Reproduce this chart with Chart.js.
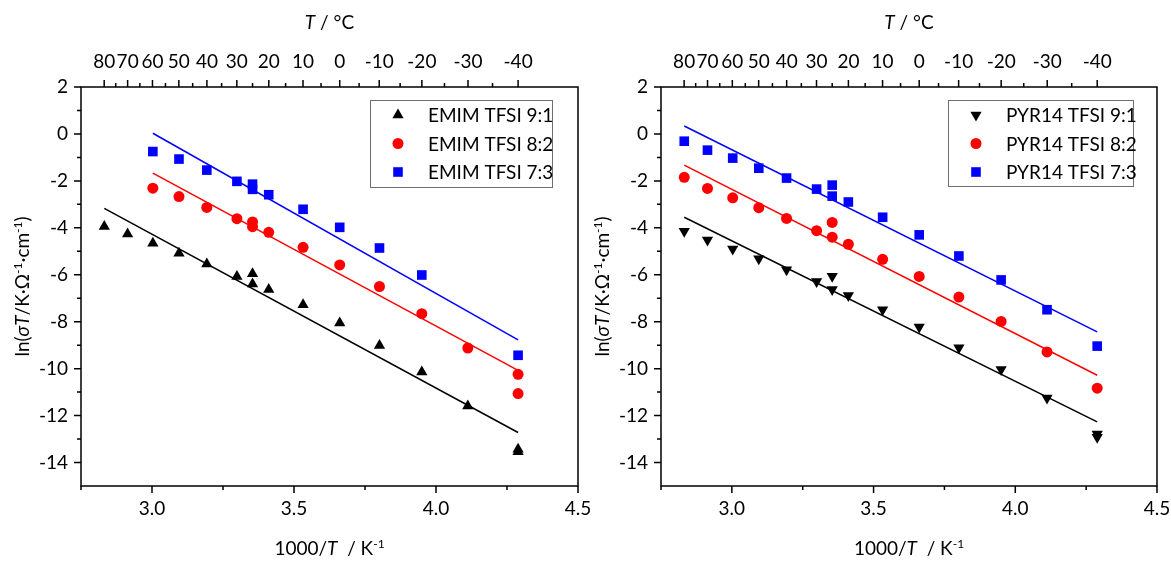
<!DOCTYPE html>
<html>
<head>
<meta charset="utf-8">
<script src="https://cdn.jsdelivr.net/npm/chart.js@4.4.1/dist/chart.umd.min.js"></script>
<style>
  body { margin: 0; background: #fff; }
  .wrap { position: relative; width: 1171px; height: 565px; overflow: hidden; }
  canvas { display: block; position: absolute; top: 0; }
  #left { left: 0; }
  #right { left: 585px; }
</style>
</head>
<body>
<div class="wrap">
  <canvas id="left" width="600" height="565"></canvas>
  <canvas id="right" width="586" height="565"></canvas>
</div>
<script>
// ---------- Dados ----------
// eixo inferior 1000/T (K^-1), eixo superior T (°C)
const xMajor = [3.0, 3.5, 4.0, 4.5];
const xMinor = [2.75, 3.25, 3.75, 4.25];
const yMajor = [-14, -12, -10, -8, -6, -4, -2, 0, 2];
const yMinor = [-13, -11, -9, -7, -5, -3, -1, 1];
const celsiusTicks = [80, 70, 60, 50, 40, 30, 20, 10, 0, -10, -20, -30, -40];
const celsiusMinor = [75, 65, 55, 45, 35, 25, 15, 5, -5, -15, -25, -35];

// EMIM TFSI
const emim91X = [2.832, 2.914, 3.003, 3.095, 3.193, 3.299, 3.354, 3.354, 3.411, 3.532, 3.661, 3.801, 3.950, 4.112, 4.289, 4.289];
const emim91Y = [-3.94, -4.26, -4.66, -5.08, -5.54, -6.07, -5.96, -6.39, -6.63, -7.28, -8.06, -9.01, -10.14, -11.59, -13.43, -13.54];
const emim82X = [3.003, 3.095, 3.193, 3.299, 3.354, 3.354, 3.411, 3.532, 3.661, 3.801, 3.950, 4.112, 4.289, 4.289];
const emim82Y = [-2.31, -2.67, -3.13, -3.61, -3.75, -3.95, -4.19, -4.83, -5.58, -6.50, -7.66, -9.12, -10.24, -11.06];
const emim73X = [3.003, 3.095, 3.193, 3.299, 3.354, 3.354, 3.411, 3.532, 3.661, 3.801, 3.950, 4.289];
const emim73Y = [-0.75, -1.07, -1.54, -2.02, -2.14, -2.36, -2.59, -3.21, -3.98, -4.86, -6.01, -9.43];
// retas de ajuste (extremos)
const emim91FitX = [2.832, 4.289], emim91FitY = [-3.17, -12.72];
const emim82FitX = [3.003, 4.289], emim82FitY = [-1.67, -10.07];
const emim73FitX = [3.003, 4.289], emim73FitY = [0.03, -8.77];

// PYR14 TFSI
const pyr91X = [2.832, 2.914, 3.003, 3.095, 3.193, 3.299, 3.354, 3.354, 3.411, 3.532, 3.661, 3.801, 3.950, 4.112, 4.289, 4.289];
const pyr91Y = [-4.15, -4.52, -4.90, -5.32, -5.79, -6.29, -6.06, -6.63, -6.88, -7.49, -8.23, -9.11, -10.04, -11.25, -12.78, -12.92];
const pyr82X = [2.832, 2.914, 3.003, 3.095, 3.193, 3.299, 3.354, 3.354, 3.411, 3.532, 3.661, 3.801, 3.950, 4.112, 4.289];
const pyr82Y = [-1.85, -2.32, -2.72, -3.14, -3.60, -4.12, -3.77, -4.40, -4.70, -5.34, -6.07, -6.95, -7.99, -9.29, -10.83];
const pyr73X = [2.832, 2.914, 3.003, 3.095, 3.193, 3.299, 3.354, 3.354, 3.411, 3.532, 3.661, 3.801, 3.950, 4.112, 4.289];
const pyr73Y = [-0.31, -0.69, -1.03, -1.46, -1.88, -2.35, -2.18, -2.65, -2.90, -3.55, -4.30, -5.20, -6.22, -7.49, -9.04];
const pyr91FitX = [2.832, 4.289], pyr91FitY = [-3.55, -12.27];
const pyr82FitX = [2.832, 4.289], pyr82FitY = [-1.33, -10.28];
const pyr73FitX = [2.832, 4.289], pyr73FitY = [0.34, -8.43];

const FONT = 'Lato';
const FS = 19;
const toK = (c) => 1000 / (c + 273.15);
const pts = (xs, ys) => xs.map((x, i) => ({ x, y: ys[i] }));

// ---------- Texto com itálico / sobrescrito ----------
function fontOf(p, size){
  const s = p.sup ? Math.round(size * 0.62) : size;
  return `${p.it ? 'italic ' : ''}${s}px ${FONT}`;
}
function drawRich(ctx, parts, cx, cy, size, rot){
  ctx.save();
  ctx.translate(cx, cy);
  ctx.rotate(rot || 0);
  let w = 0;
  for(const p of parts){ ctx.font = fontOf(p, size); p.w = ctx.measureText(p.t).width; w += p.w; }
  let x = -w / 2;
  ctx.fillStyle = '#000';
  ctx.textAlign = 'left';
  ctx.textBaseline = 'alphabetic';
  for(const p of parts){
    ctx.font = fontOf(p, size);
    ctx.fillText(p.t, x, p.sup ? -size * 0.38 : 0);
    x += p.w;
  }
  ctx.restore();
}

function marker(ctx, style, x, y, color){
  ctx.save();
  ctx.fillStyle = color;
  ctx.beginPath();
  if(style === 'triangle' || style === 'down'){
    const r = 6.5, s = style === 'down' ? -1 : 1;
    ctx.moveTo(x, y - s * r);
    ctx.lineTo(x + r * 0.866, y + s * r * 0.5);
    ctx.lineTo(x - r * 0.866, y + s * r * 0.5);
    ctx.closePath();
  } else if(style === 'circle'){
    ctx.arc(x, y, 5.5, 0, Math.PI * 2);
  } else {
    ctx.rect(x - 4.8, y - 4.8, 9.6, 9.6);
  }
  ctx.fill();
  ctx.restore();
}

// ---------- Plugins ----------
const framePlugin = {
  id: 'frame',
  afterDatasetsDraw(chart){
    const { ctx, chartArea: a, scales } = chart;
    ctx.save();
    ctx.strokeStyle = '#000';
    ctx.lineWidth = 1.5;
    ctx.strokeRect(a.left, a.top, a.right - a.left, a.bottom - a.top);
    ctx.beginPath();
    const t = (x1, y1, x2, y2) => { ctx.moveTo(x1, y1); ctx.lineTo(x2, y2); };
    xMajor.forEach(v => { const p = scales.x.getPixelForValue(v); t(p, a.bottom, p, a.bottom + 7); });
    xMinor.forEach(v => { const p = scales.x.getPixelForValue(v); t(p, a.bottom, p, a.bottom + 4); });
    yMajor.forEach(v => { const p = scales.y.getPixelForValue(v); t(a.left - 7, p, a.left, p); });
    yMinor.forEach(v => { const p = scales.y.getPixelForValue(v); t(a.left - 4, p, a.left, p); });
    celsiusTicks.forEach(c => { const p = scales.x2.getPixelForValue(toK(c)); t(p, a.top, p, a.top - 7); });
    celsiusMinor.forEach(c => { const p = scales.x2.getPixelForValue(toK(c)); t(p, a.top, p, a.top - 4); });
    ctx.stroke();
    ctx.restore();

    // títulos dos eixos
    const cx = (a.left + a.right) / 2;
    drawRich(ctx, [{ t: 'T', it: true }, { t: ' / °C' }], cx, 29, FS);
    drawRich(ctx, [{ t: '1000/' }, { t: 'T', it: true }, { t: '  / K' }, { t: '-1', sup: true }], cx, 555, FS);
    const o = chart.options.plugins.frame;
    drawRich(ctx, [{ t: 'ln(' }, { t: 'σT', it: true }, { t: '/K·Ω' }, { t: '-1', sup: true },
      { t: '·cm' }, { t: '-1', sup: true }, { t: ')' }], o.titleX, (a.top + a.bottom) / 2, FS, -Math.PI / 2);

    // legenda
    const L = o.legend;
    ctx.save();
    ctx.fillStyle = '#fff';
    ctx.fillRect(L.x, L.y, L.w, L.h);
    ctx.strokeStyle = '#6e6e6e';
    ctx.lineWidth = 1;
    ctx.strokeRect(L.x + 0.5, L.y + 0.5, L.w, L.h);
    ctx.font = `${FS}px ${FONT}`;
    ctx.textBaseline = 'middle';
    ctx.fillStyle = '#000';
    L.items.forEach((it, i) => {
      const yy = L.y + 15 + i * 28.5;
      marker(ctx, it.style, L.x + 28, yy, it.color);
      ctx.fillStyle = '#000';
      ctx.fillText(it.label, L.x + 58, yy + 1);
    });
    ctx.restore();
  }
};

function makeChart(id, cfg){
  const tickFont = { family: FONT, size: FS };
  const pointSet = (xs, ys, style, color, rot) => ({
    data: pts(xs, ys), showLine: false, pointStyle: style, pointRotation: rot || 0,
    pointRadius: style === 'circle' ? 5.5 : (style === 'rect' ? 6.8 : 6.5),
    pointBackgroundColor: color, pointBorderColor: color, pointBorderWidth: 0
  });
  const fitSet = (xs, ys, color) => ({
    data: pts(xs, ys), showLine: true, borderColor: color, borderWidth: 1.5, pointRadius: 0, fill: false
  });
  const hideGrid = { display: false, drawTicks: false };
  return new Chart(document.getElementById(id), {
    type: 'scatter',
    data: {
      datasets: [
        pointSet(cfg.s1[0], cfg.s1[1], 'triangle', '#000', cfg.rot1),
        pointSet(cfg.s2[0], cfg.s2[1], 'circle', '#ff0000'),
        pointSet(cfg.s3[0], cfg.s3[1], 'rect', '#0000ff'),
        fitSet(cfg.f1[0], cfg.f1[1], '#000'),
        fitSet(cfg.f2[0], cfg.f2[1], '#ff0000'),
        fitSet(cfg.f3[0], cfg.f3[1], '#0000ff'),
      ]
    },
    options: {
      responsive: false,
      animation: false,
      devicePixelRatio: 1,
      layout: { padding: { left: 0, right: cfg.padRight, top: 0, bottom: 0 } },
      plugins: {
        legend: { display: false },
        tooltip: { enabled: false },
        frame: { titleX: cfg.titleX, legend: cfg.legend }
      },
      scales: {
        x: {
          type: 'linear', position: 'bottom', min: 2.75, max: 4.5,
          grid: hideGrid, border: { display: false },
          afterBuildTicks: (s) => { s.ticks = xMajor.map(v => ({ value: v })); },
          afterFit: (s) => { s.height = 79; s.paddingLeft = 0; s.paddingRight = 0; },
          ticks: { font: tickFont, color: '#000', padding: 11, maxRotation: 0, autoSkip: false,
            callback: (v) => Number(v).toFixed(1) }
        },
        x2: {
          type: 'linear', position: 'top', min: 2.75, max: 4.5,
          grid: hideGrid, border: { display: false },
          afterBuildTicks: (s) => { s.ticks = celsiusTicks.map(c => ({ value: toK(c) })); },
          afterFit: (s) => { s.height = 87; s.paddingLeft = 0; s.paddingRight = 0; },
          ticks: { font: tickFont, color: '#000', padding: 14, maxRotation: 0, autoSkip: false,
            callback: (v, i) => String(celsiusTicks[i]) }
        },
        y: {
          type: 'linear', position: 'left', min: -15, max: 2,
          grid: hideGrid, border: { display: false },
          afterBuildTicks: (s) => { s.ticks = yMajor.map(v => ({ value: v })); },
          afterFit: (s) => { s.width = cfg.yWidth; s.paddingTop = 0; s.paddingBottom = 0; },
          ticks: { font: tickFont, color: '#000', padding: 13, autoSkip: false,
            callback: (v) => String(v) }
        }
      }
    },
    plugins: [framePlugin]
  });
}

makeChart('left', {
  s1: [emim91X, emim91Y], s2: [emim82X, emim82Y], s3: [emim73X, emim73Y],
  f1: [emim91FitX, emim91FitY], f2: [emim82FitX, emim82FitY], f3: [emim73FitX, emim73FitY],
  rot1: 0, padRight: 22, yWidth: 81, titleX: 29,
  legend: { x: 370, y: 100, w: 182, h: 87, items: [
    { label: 'EMIM TFSI 9:1', style: 'triangle', color: '#000' },
    { label: 'EMIM TFSI 8:2', style: 'circle', color: '#ff0000' },
    { label: 'EMIM TFSI 7:3', style: 'rect', color: '#0000ff' } ] }
});

makeChart('right', {
  s1: [pyr91X, pyr91Y], s2: [pyr82X, pyr82Y], s3: [pyr73X, pyr73Y],
  f1: [pyr91FitX, pyr91FitY], f2: [pyr82FitX, pyr82FitY], f3: [pyr73FitX, pyr73FitY],
  rot1: 180, padRight: 14, yWidth: 76, titleX: 24,
  legend: { x: 363, y: 100, w: 185, h: 86, items: [
    { label: 'PYR14 TFSI 9:1', style: 'down', color: '#000' },
    { label: 'PYR14 TFSI 8:2', style: 'circle', color: '#ff0000' },
    { label: 'PYR14 TFSI 7:3', style: 'rect', color: '#0000ff' } ] }
});
</script>
</body>
</html>
